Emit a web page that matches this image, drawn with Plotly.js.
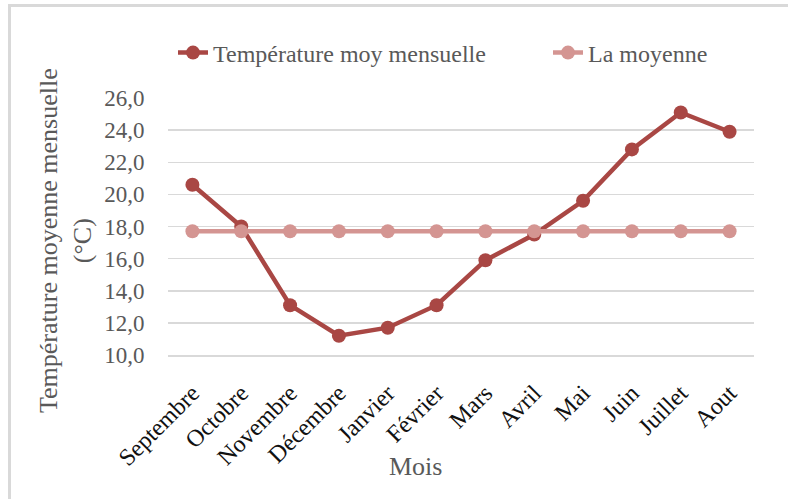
<!DOCTYPE html>
<html>
<head>
<meta charset="utf-8">
<script src="https://cdn.plot.ly/plotly-3.0.1.min.js"></script>
<style>
  html, body { margin: 0; padding: 0; background: #fff; }
  #wrap { position: relative; width: 788px; height: 499px; }
  #chart { width: 788px; height: 499px; }
  #frame { position: absolute; left: 8px; top: 4px; right: -10px; bottom: -10px;
           border-top: 3px solid #D9D9D9; border-left: 3px solid #D9D9D9; pointer-events: none; }
</style>
</head>
<body>
<div id="wrap">
  <div id="chart"></div>
  <div id="frame"></div>
</div>
<script>
const months = ["Septembre", "Octobre", "Novembre", "Décembre", "Janvier", "Février",
                "Mars", "Avril", "Mai", "Juin", "Juillet", "Aout"];
const tempMensuelle = [20.6, 18.0, 13.1, 11.2, 11.7, 13.1, 15.9, 17.5, 19.6, 22.8, 25.1, 23.9];
const laMoyenne = [17.7, 17.7, 17.7, 17.7, 17.7, 17.7, 17.7, 17.7, 17.7, 17.7, 17.7, 17.7];
const serieNames = ["Température moy mensuelle", "La moyenne"];
const yTitle = "Température moyenne mensuelle<br>(°C)";
const xTitle = "Mois";

const W = 788, H = 499;
const L = 168, R = 34, T = 98, B = 144;
const pw = W - L - R, ph = H - T - B;
const px = x => (x - L) / pw;
const py = y => (H - B - y) / ph;

const font = "Liberation Serif, Times New Roman, serif";

const traces = [
  {
    x: months, y: tempMensuelle, name: serieNames[0], type: "scatter", mode: "lines+markers",
    line: { color: "#A94744", width: 4.5 },
    marker: { color: "#A94744", size: 14 },
    legend: "legend"
  },
  {
    x: months, y: laMoyenne, name: serieNames[1], type: "scatter", mode: "lines+markers",
    line: { color: "#D49592", width: 4.5 },
    marker: { color: "#D49592", size: 14 },
    legend: "legend2"
  }
];

const legendFont = { family: font, size: 24, color: "#595959" };

const layout = {
  width: W, height: H,
  margin: { l: L, r: R, t: T, b: B, pad: 0 },
  paper_bgcolor: "#fff", plot_bgcolor: "#fff",
  font: { family: font, size: 22, color: "#595959" },
  separators: ",.",
  showlegend: true,
  legend: {
    orientation: "h", x: px(173), y: py(53), xanchor: "left", yanchor: "middle",
    font: legendFont, bgcolor: "rgba(0,0,0,0)"
  },
  legend2: {
    orientation: "h", x: px(548), y: py(53), xanchor: "left", yanchor: "middle",
    font: legendFont, bgcolor: "rgba(0,0,0,0)"
  },
  xaxis: {
    type: "category", range: [-0.5, 11.5], fixedrange: true,
    showgrid: false, zeroline: false,
    showline: true, linecolor: "#D9D9D9", linewidth: 1.5,
    ticks: "outside", ticklen: 13, tickcolor: "rgba(0,0,0,0)",
    tickangle: -45,
    tickfont: { family: font, size: 24, color: "#111" }
  },
  yaxis: {
    range: [10, 26], dtick: 2, tick0: 10, tickformat: ".1f", fixedrange: true,
    showgrid: true, gridcolor: "#D9D9D9", gridwidth: 1.5,
    zeroline: false, showline: false,
    ticks: "outside", ticklen: 18, tickcolor: "rgba(0,0,0,0)",
    tickfont: { family: font, size: 23, color: "#595959" }
  },
  annotations: [
    {
      text: yTitle, xref: "paper", yref: "paper", x: px(65), y: py(241),
      xanchor: "center", yanchor: "middle", textangle: -90, showarrow: false,
      font: { family: font, size: 26, color: "#595959" }
    },
    {
      text: xTitle, xref: "paper", yref: "paper", x: px(415), y: py(466),
      xanchor: "center", yanchor: "middle", showarrow: false,
      font: { family: font, size: 26, color: "#595959" }
    }
  ]
};

Plotly.newPlot("chart", traces, layout, { displayModeBar: false, staticPlot: true });
</script>
</body>
</html>
